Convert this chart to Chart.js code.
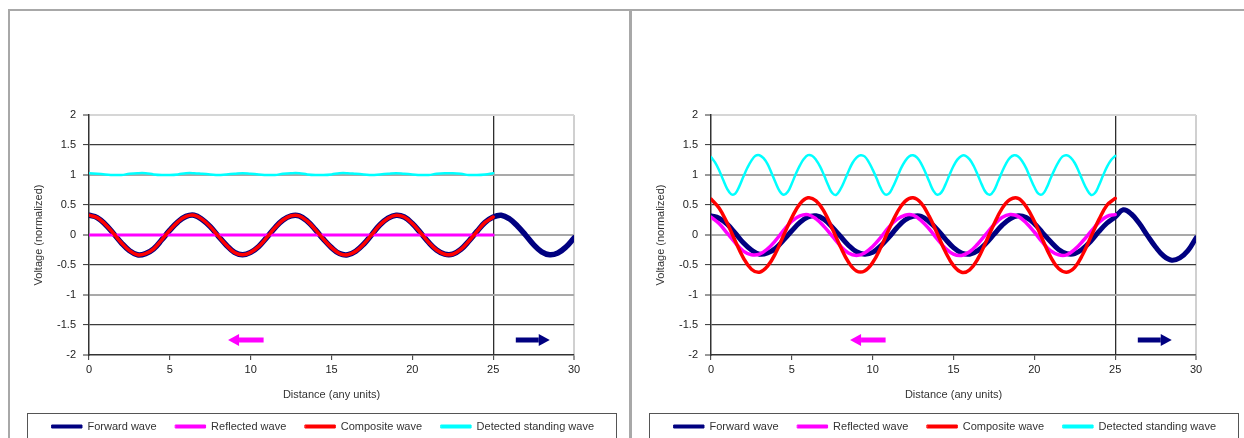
<!DOCTYPE html>
<html>
<head>
<meta charset="utf-8">
<title>Forward, reflected and standing waves</title>
<script src="https://cdn.jsdelivr.net/npm/chart.js@4/dist/chart.umd.min.js"></script>
<style>
  html, body { margin: 0; padding: 0; background: #fff; overflow: hidden; }
  body { width: 1244px; height: 438px; position: relative; }
  .frame { position: absolute; top: 9px; left: 8px; width: 1250px; height: 440px;
           border-top: 2px solid #a8a8a8; border-left: 2px solid #a8a8a8; }
  .divider { position: absolute; top: 9px; left: 629px; width: 3px; height: 440px; background: #a8a8a8; }
  canvas { position: absolute; top: 12px; }
  #leftChart { left: 10px; }
  #rightChart { left: 632px; }
</style>
</head>
<body>
<div class="frame"></div>
<div class="divider"></div>
<canvas id="leftChart" width="618" height="432"></canvas>
<canvas id="rightChart" width="612" height="432"></canvas>

<script>
/* ==========================================
   STANDING WAVE - two panels
   ========================================== */

// Distance samples (any units)
const distance = [
    0, 0.5, 1, 1.5, 2, 2.5, 3, 3.5, 4, 4.5,
    5, 5.5, 6, 6.5, 7, 7.5, 8, 8.5, 9, 9.5,
    10, 10.5, 11, 11.5, 12, 12.5, 13, 13.5, 14, 14.5,
    15, 15.5, 16, 16.5, 17, 17.5, 18, 18.5, 19, 19.5,
    20, 20.5, 21, 21.5, 22, 22.5, 23, 23.5, 24, 24.5,
    25, 25.5, 26, 26.5, 27, 27.5, 28, 28.5, 29, 29.5,
    30
];

const distanceFine = [
    0, 0.25, 0.5, 0.75, 1, 1.25, 1.5, 1.75, 2, 2.25,
    2.5, 2.75, 3, 3.25, 3.5, 3.75, 4, 4.25, 4.5, 4.75,
    5, 5.25, 5.5, 5.75, 6, 6.25, 6.5, 6.75, 7, 7.25,
    7.5, 7.75, 8, 8.25, 8.5, 8.75, 9, 9.25, 9.5, 9.75,
    10, 10.25, 10.5, 10.75, 11, 11.25, 11.5, 11.75, 12, 12.25,
    12.5, 12.75, 13, 13.25, 13.5, 13.75, 14, 14.25, 14.5, 14.75,
    15, 15.25, 15.5, 15.75, 16, 16.25, 16.5, 16.75, 17, 17.25,
    17.5, 17.75, 18, 18.25, 18.5, 18.75, 19, 19.25, 19.5, 19.75,
    20, 20.25, 20.5, 20.75, 21, 21.25, 21.5, 21.75, 22, 22.25,
    22.5, 22.75, 23, 23.25, 23.5, 23.75, 24, 24.25, 24.5, 24.75,
    25
];

// Left panel: no reflection
const leftForward = [
    0.33, 0.29, 0.18, 0.03, -0.13, -0.26, -0.33, -0.31, -0.23, -0.08,
    0.08, 0.22, 0.31, 0.33, 0.26, 0.14, -0.02, -0.17, -0.29, -0.33,
    -0.29, -0.19, -0.04, 0.12, 0.25, 0.32, 0.32, 0.23, 0.09, -0.07,
    -0.21, -0.31, -0.33, -0.27, -0.15, 0.01, 0.17, 0.28, 0.33, 0.30,
    0.19, 0.04, -0.12, -0.25, -0.32, -0.32, -0.24, -0.10, 0.06, 0.21,
    0.30, 0.33, 0.27, 0.15, 0.00, -0.16, -0.28, -0.33, -0.30, -0.20,
    -0.05
];

const leftReflected = [
    0, 0, 0, 0, 0, 0, 0, 0, 0, 0,
    0, 0, 0, 0, 0, 0, 0, 0, 0, 0,
    0, 0, 0, 0, 0, 0, 0, 0, 0, 0,
    0, 0, 0, 0, 0, 0, 0, 0, 0, 0,
    0, 0, 0, 0, 0, 0, 0, 0, 0, 0,
    0
];

const leftComposite = [
    0.33, 0.29, 0.18, 0.03, -0.13, -0.26, -0.33, -0.31, -0.23, -0.08,
    0.08, 0.22, 0.31, 0.33, 0.26, 0.14, -0.02, -0.17, -0.29, -0.33,
    -0.29, -0.19, -0.04, 0.12, 0.25, 0.32, 0.32, 0.23, 0.09, -0.07,
    -0.21, -0.31, -0.33, -0.27, -0.15, 0.01, 0.17, 0.28, 0.33, 0.30,
    0.19, 0.04, -0.12, -0.25, -0.32, -0.32, -0.24, -0.10, 0.06, 0.21,
    0.30
];

const leftStanding = [
    1.03, 1.02, 1.01, 1.00, 1.00, 1.02, 1.03, 1.03, 1.01, 1.00,
    1.00, 1.01, 1.03, 1.03, 1.02, 1.01, 1.00, 1.01, 1.02, 1.03,
    1.02, 1.01, 1.00, 1.00, 1.02, 1.03, 1.03, 1.01, 1.00, 1.00,
    1.01, 1.03, 1.03, 1.02, 1.01, 1.00, 1.01, 1.02, 1.03, 1.02,
    1.01, 1.00, 1.00, 1.02, 1.03, 1.03, 1.02, 1.00, 1.00, 1.01,
    1.03
];

// Right panel: with reflection
const rightForward = [
    0.32, 0.28, 0.18, 0.03, -0.13, -0.25, -0.32, -0.30, -0.22, -0.08,
    0.07, 0.21, 0.30, 0.32, 0.26, 0.13, -0.02, -0.17, -0.28, -0.32,
    -0.29, -0.18, -0.04, 0.12, 0.25, 0.31, 0.31, 0.22, 0.09, -0.07,
    -0.21, -0.30, -0.32, -0.26, -0.14, 0.01, 0.16, 0.27, 0.32, 0.29,
    0.19, 0.04, -0.11, -0.24, -0.31, -0.31, -0.23, -0.10, 0.06, 0.20,
    0.30, 0.42, 0.35, 0.19, -0.01, -0.20, -0.35, -0.42, -0.38, -0.26,
    -0.05
];

const rightReflected = [
    0.30, 0.19, 0.03, -0.13, -0.27, -0.33, -0.32, -0.23, -0.09, 0.08,
    0.23, 0.32, 0.34, 0.27, 0.14, -0.02, -0.18, -0.30, -0.34, -0.30,
    -0.19, -0.04, 0.13, 0.26, 0.33, 0.33, 0.24, 0.10, -0.07, -0.22,
    -0.32, -0.34, -0.28, -0.15, 0.01, 0.17, 0.29, 0.34, 0.31, 0.20,
    0.05, -0.12, -0.26, -0.33, -0.33, -0.24, -0.10, 0.06, 0.21, 0.31,
    0.34
];

const rightComposite = [
    0.60, 0.45, 0.20, -0.10, -0.38, -0.57, -0.62, -0.52, -0.30, 0.00,
    0.29, 0.52, 0.62, 0.57, 0.39, 0.11, -0.19, -0.45, -0.60, -0.60,
    -0.46, -0.21, 0.09, 0.37, 0.56, 0.62, 0.53, 0.31, 0.02, -0.28,
    -0.51, -0.62, -0.58, -0.40, -0.12, 0.18, 0.44, 0.59, 0.61, 0.47,
    0.23, -0.07, -0.36, -0.56, -0.62, -0.54, -0.32, -0.03, 0.26, 0.50,
    0.61
];

const rightStanding = [
    1.30, 1.21, 1.08, 0.92, 0.77, 0.68, 0.69, 0.81, 0.97, 1.12,
    1.24, 1.32, 1.33, 1.28, 1.18, 1.03, 0.87, 0.73, 0.67, 0.72,
    0.86, 1.02, 1.16, 1.27, 1.33, 1.32, 1.25, 1.14, 0.99, 0.83,
    0.70, 0.67, 0.76, 0.90, 1.06, 1.20, 1.29, 1.33, 1.31, 1.22,
    1.09, 0.94, 0.78, 0.68, 0.69, 0.80, 0.95, 1.11, 1.23, 1.31,
    1.33, 1.29, 1.19, 1.05, 0.89, 0.74, 0.67, 0.71, 0.84, 1.00,
    1.15, 1.26, 1.32, 1.32, 1.26, 1.15, 1.00, 0.84, 0.71, 0.67,
    0.74, 0.89, 1.05, 1.19, 1.29, 1.33, 1.31, 1.23, 1.11, 0.95,
    0.80, 0.69, 0.68, 0.78, 0.94, 1.09, 1.22, 1.31, 1.33, 1.29,
    1.20, 1.06, 0.90, 0.76, 0.67, 0.70, 0.83, 0.99, 1.14, 1.25,
    1.32
];

const seriesNames = ['Forward wave', 'Reflected wave', 'Composite wave', 'Detected standing wave'];
const seriesColors = ['#000080', '#ff00ff', '#ff0000', '#00ffff'];

// Direction arrows (data units)
const reflectedArrow = { from: 10.8, to: 8.6, y: -1.75 };
const forwardArrow = { from: 26.4, to: 28.5, y: -1.75 };

Chart.defaults.font.family = '"Liberation Sans", Arial, sans-serif';

function points(xs, ys) {
    return ys.map((y, i) => ({ x: xs[i], y: y }));
}

function lineSet(idx, xs, ys, width) {
    return {
        label: seriesNames[idx],
        data: points(xs, ys),
        borderColor: seriesColors[idx],
        backgroundColor: seriesColors[idx],
        borderWidth: width,
        pointRadius: 0,
        tension: 0.4,
        fill: false,
        borderJoinStyle: 'round',
        borderCapStyle: 'round',
        order: 4 - idx
    };
}

function drawArrow(ctx, x1, x2, y, color) {
    const dir = Math.sign(x2 - x1);
    const headLen = 11, headHalf = 6, shaft = 5;
    ctx.fillStyle = color;
    ctx.fillRect(Math.min(x1, x2 - dir * headLen), y - shaft / 2, Math.abs(x2 - x1) - headLen, shaft);
    ctx.beginPath();
    ctx.moveTo(x2, y);
    ctx.lineTo(x2 - dir * headLen, y - headHalf);
    ctx.lineTo(x2 - dir * headLen, y + headHalf);
    ctx.closePath();
    ctx.fill();
}

const arrowMarks = {
    id: 'arrowMarks',
    afterDatasetsDraw(chart) {
        const { ctx, scales: { x, y } } = chart;
        ctx.save();
        drawArrow(ctx, x.getPixelForValue(reflectedArrow.from), x.getPixelForValue(reflectedArrow.to),
            y.getPixelForValue(reflectedArrow.y), seriesColors[1]);
        drawArrow(ctx, x.getPixelForValue(forwardArrow.from), x.getPixelForValue(forwardArrow.to),
            y.getPixelForValue(forwardArrow.y), seriesColors[0]);
        ctx.restore();
    }
};

// Legend sits on one row in a framed strip across the panel
const legendFrame = {
    id: 'legendFrame',
    beforeInit(chart) {
        const originalFit = chart.legend.fit;
        chart.legend.fit = function fit() {
            this.maxWidth = 600;
            originalFit.call(this);
        };
    },
    afterLayout(chart) {
        chart.legend.left = 20;
        chart.legend.right = 606;
    },
    afterDraw(chart) {
        const ctx = chart.ctx;
        ctx.save();
        ctx.strokeStyle = '#555';
        ctx.lineWidth = 1;
        ctx.strokeRect(17.5, 401.5, 589, 40);
        ctx.restore();
    }
};

function buildChart(canvasId, sets, rightPad) {
    return new Chart(document.getElementById(canvasId), {
        type: 'line',
        data: { datasets: sets },
        options: {
            responsive: false,
            animation: false,
            events: [],
            layout: { padding: { left: 18, right: rightPad, top: 103, bottom: 2 } },
            plugins: {
                tooltip: { enabled: false },
                legend: {
                    position: 'bottom',
                    labels: {
                        boxWidth: 30,
                        boxHeight: 3,
                        padding: 19,
                        color: '#333',
                        font: { size: 11 },
                        sort: (a, b) => a.datasetIndex - b.datasetIndex,
                        generateLabels: function (chart) {
                            const items = Chart.defaults.plugins.legend.labels.generateLabels(chart);
                            return items.map(item => {
                                const color = chart.data.datasets[item.datasetIndex].borderColor;
                                item.fillStyle = color;
                                item.strokeStyle = color;
                                item.lineWidth = 1;
                                return item;
                            });
                        }
                    }
                }
            },
            scales: {
                x: {
                    type: 'linear',
                    min: 0,
                    max: 30,
                    afterFit: s => { s.height = 47; },
                    ticks: { stepSize: 5, color: '#222', font: { size: 11 }, padding: 3, maxRotation: 0 },
                    grid: {
                        color: c => c.tick.value === 25 ? '#2e2e2e' : (c.tick.value === 30 ? '#d0d0d0' : 'rgba(0,0,0,0)'),
                        lineWidth: c => c.tick.value === 30 ? 2 : 1.3,
                        tickColor: '#333',
                        tickWidth: 1,
                        tickLength: 5
                    },
                    border: { color: '#333', width: 1.5 },
                    title: {
                        display: true,
                        text: 'Distance (any units)',
                        color: '#333',
                        font: { size: 11 },
                        padding: { top: 0, bottom: 0 }
                    }
                },
                y: {
                    min: -2,
                    max: 2,
                    afterFit: s => { s.width = 61; },
                    ticks: {
                        stepSize: 0.5,
                        color: '#222',
                        font: { size: 11 },
                        padding: 7,
                        callback: value => String(value)
                    },
                    grid: {
                        color: c => {
                            const v = c.tick.value;
                            if (v === -2) return 'rgba(0,0,0,0)';
                            if (v === 2) return '#d6d6d6';
                            return Number.isInteger(v) ? '#a9a9a9' : '#3c3c3c';
                        },
                        lineWidth: c => Number.isInteger(c.tick.value) ? 2 : 1.2,
                        tickColor: '#333',
                        tickWidth: 1,
                        tickLength: 6
                    },
                    border: { color: '#333', width: 1.5 },
                    title: {
                        display: true,
                        text: 'Voltage (normalized)',
                        color: '#333',
                        font: { size: 11 },
                        padding: { top: 4, bottom: 0 }
                    }
                }
            }
        },
        plugins: [arrowMarks, legendFrame]
    });
}

buildChart('leftChart', [
    lineSet(0, distance, leftForward, 5.5),
    lineSet(1, distance, leftReflected, 3),
    lineSet(2, distance, leftComposite, 3.5),
    lineSet(3, distance, leftStanding, 2.5)
], 54);

buildChart('rightChart', [
    lineSet(0, distance, rightForward, 5),
    lineSet(1, distance, rightReflected, 3.5),
    lineSet(2, distance, rightComposite, 3.5),
    lineSet(3, distanceFine, rightStanding, 2.5)
], 48);
</script>
</body>
</html>
